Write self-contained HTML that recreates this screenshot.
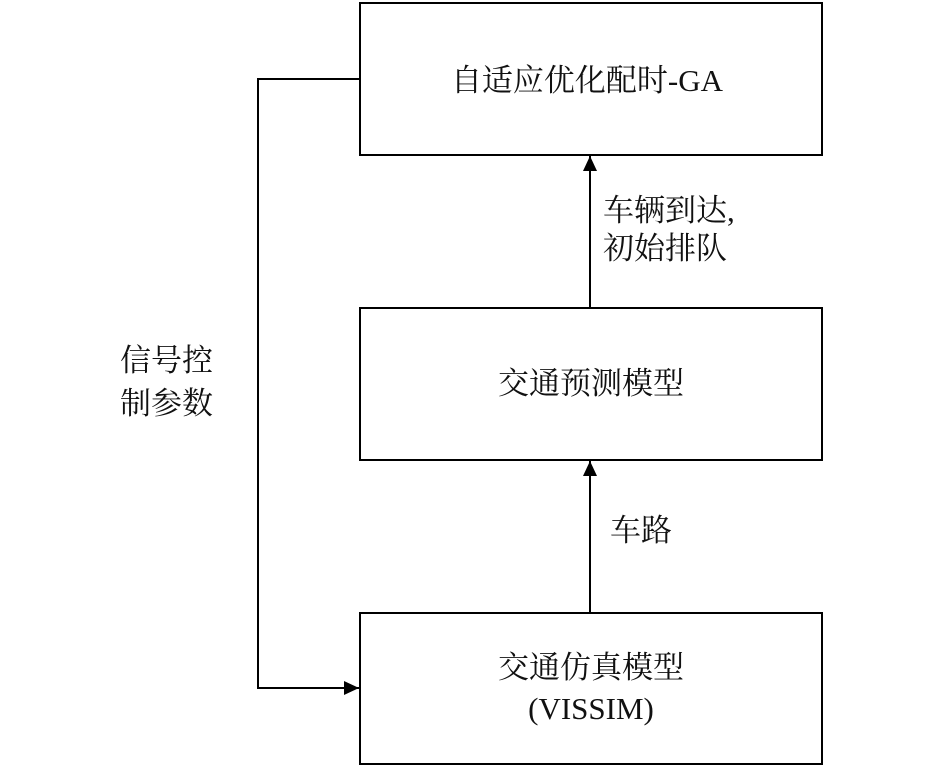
<!DOCTYPE html>
<html><head><meta charset="utf-8"><style>
body{margin:0;background:#fff;width:945px;height:768px;overflow:hidden}
svg text{font-family:"Liberation Serif","Noto Serif CJK SC",serif;font-size:31px;fill:#111}
</style></head><body>
<svg width="945" height="768" xmlns="http://www.w3.org/2000/svg">
<defs><marker id="a" markerWidth="16" markerHeight="16" refX="15" refY="7" orient="auto" markerUnits="userSpaceOnUse"><path d="M0,0 L15,7 L0,14 Z" fill="#000"/></marker></defs>
<g fill="none" stroke="#000" stroke-width="2">
<rect x="360" y="3" width="462" height="152"/>
<rect x="360" y="308" width="462" height="152"/>
<rect x="360" y="613" width="462" height="151"/>
<line x1="590" y1="308" x2="590" y2="156" marker-end="url(#a)"/>
<line x1="590" y1="613" x2="590" y2="461" marker-end="url(#a)"/>
<polyline points="360,79 258,79 258,688 359,688" marker-end="url(#a)"/>
</g>
<text x="587" y="91" text-anchor="middle">自适应优化配时-GA</text>
<text x="591" y="394" text-anchor="middle">交通预测模型</text>
<text x="591" y="678" text-anchor="middle">交通仿真模型</text>
<text x="591" y="719" text-anchor="middle">(VISSIM)</text>
<text x="603" y="221">车辆到达,</text>
<text x="603" y="259">初始排队</text>
<text x="610" y="541">车路</text>
<text x="120" y="371">信号控</text>
<text x="120" y="414">制参数</text>
</svg>
</body></html>
